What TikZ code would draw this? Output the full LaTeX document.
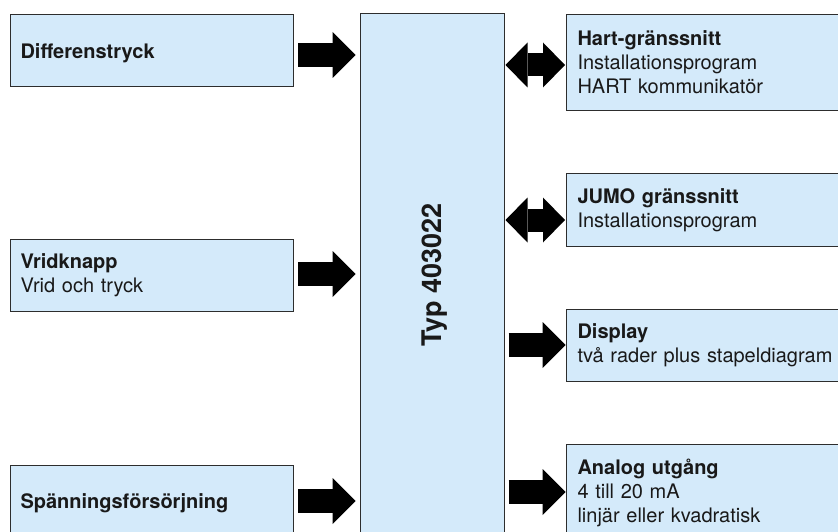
\documentclass[tikz,border=0pt]{standalone}
\usepackage{fontspec}
\setmainfont{TeX Gyre Heros}
\usetikzlibrary{arrows.meta}
\definecolor{boxfill}{RGB}{212,234,250}
\definecolor{boxline}{RGB}{45,45,45}
\definecolor{txt}{RGB}{25,25,25}
\begin{document}
\begin{tikzpicture}[x=1pt,y=-1pt,
  lbox/.style={draw=boxline, line width=1pt, fill=boxfill, anchor=north west,
    inner xsep=10pt, inner ysep=0pt, text width=263pt, minimum width=283pt,
    align=left, font=\fontsize{20}{24}\selectfont, text=txt},
  rbox/.style={lbox, inner xsep=11pt, text width=280pt, minimum width=302pt},
  fat/.style={line width=24pt,
    -{Triangle[length=23pt,width=46pt,line width=0pt]},
    shorten <=4pt, shorten >=4pt},
  fatr/.style={fat, shorten <=4pt, shorten >=0.5pt},
  fatboth/.style={line width=23pt,
    {Triangle[length=22pt,width=45pt,line width=0pt]}-{Triangle[length=22pt,width=45pt,line width=0pt]},
    shorten <=1pt, shorten >=1pt}
]
\useasboundingbox (0,0) rectangle (838,532);
\clip (0,0) rectangle (838,532);

% central block
\node[draw=boxline, line width=1pt, fill=boxfill, rotate=90,
      minimum width=522pt, minimum height=144pt, inner sep=0pt,
      text depth=0pt, text=txt, font=\fontsize{27}{32}\selectfont\bfseries]
      (typ) at (432,275) {Typ 403022};

% left blocks
\node[lbox, minimum height=72pt, text height=16pt, text depth=0pt] (diff) at (10,14) {\textbf{Differenstryck}};
\node[lbox, minimum height=72pt] (vrid) at (10,239) {\textbf{Vridknapp}\\Vrid och tryck};
\node[lbox, minimum height=75pt] (spann) at (10,465) {\textbf{Spänningsförsörjning}};

% right blocks
\node[rbox, minimum height=96pt] (hart) at (566,14)
  {\textbf{Hart-gränssnitt}\\Installationsprogram\\HART kommunikatör};
\node[rbox, minimum height=73pt] (jumo) at (566,173)
  {\textbf{JUMO gränssnitt}\\Installationsprogram};
\node[rbox, minimum height=72pt] (disp) at (566,309)
  {\textbf{Display}\\två rader plus stapeldiagram};
\node[rbox, minimum height=96pt] (anal) at (566,444)
  {\textbf{Analog utgång}\\4 till 20 mA\\linjär eller kvadratisk};

% arrows in
\draw[fat] (diff.east |- 0,55) -- (typ.north |- 0,55);
\draw[fat] (vrid.east |- 0,274) -- (typ.north |- 0,274);
\draw[fat] (spann.east |- 0,501) -- (typ.north |- 0,501);

% arrows out
\draw[fatboth] (typ.south |- 0,65) -- (hart.west |- 0,65);
\draw[fatboth] (typ.south |- 0,220) -- (jumo.west |- 0,220);
\draw[fatr] (typ.south |- 0,345) -- (disp.west |- 0,345);
\draw[fatr] (typ.south |- 0,492) -- (anal.west |- 0,492);
\end{tikzpicture}
\end{document}
